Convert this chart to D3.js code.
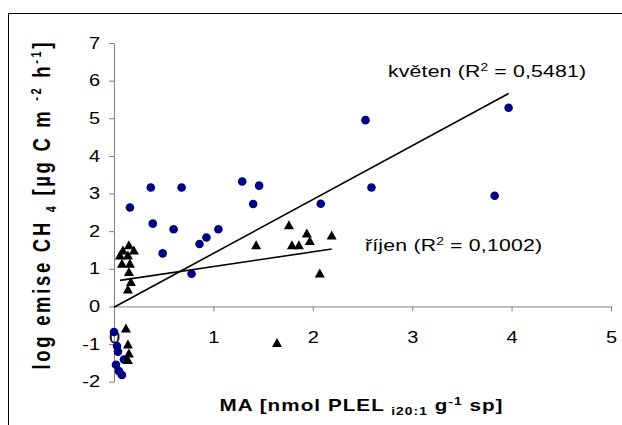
<!DOCTYPE html>
<html>
<head>
<meta charset="utf-8">
<script src="https://cdn.jsdelivr.net/npm/d3@7"></script>
<style>
  body { margin: 0; background: #fff; }
  text { font-family: "Liberation Sans", Arial, sans-serif; }
</style>
</head>
<body>
<script>
// hodnoty
const xTicks = [0, 1, 2, 3, 4, 5];
const yTicks = [-2, -1, 0, 1, 2, 3, 4, 5, 6, 7];

// květen (modré body)
const mayX = [0.16, 0.37, 0.68, 1.29, 1.46, 1.40, 0.39, 0.60, 1.05, 0.93, 0.86, 0.49, 0.78,
              2.08, 2.53, 3.97, 2.59, 3.83,
              0.00, 0.03, 0.04, 0.10, 0.02, 0.05, 0.08];
const mayY = [2.63, 3.16, 3.16, 3.32, 3.21, 2.72, 2.20, 2.05, 2.05, 1.83, 1.66, 1.41, 0.87,
              2.73, 4.95, 5.28, 3.16, 2.94,
              -0.68, -1.05, -1.20, -1.41, -1.55, -1.72, -1.82];

// říjen (trojúhelníky)
const octX = [0.15, 0.09, 0.20, 0.06, 0.14, 0.08, 0.16, 0.15, 0.17, 0.14,
              0.12, 0.14, 0.15, 0.14,
              1.76, 1.43, 1.79, 1.86, 1.94, 1.97, 2.19, 2.07, 1.64];
const octY = [1.64, 1.50, 1.50, 1.37, 1.37, 1.15, 1.15, 0.93, 0.66, 0.46,
              -0.57, -1.00, -1.24, -1.41,
              2.17, 1.64, 1.64, 1.64, 1.95, 1.75, 1.90, 0.89, -0.96];

// lineární trendy (sklon, úsek)
const mayTrend = [1.43, -0.02];
const octTrend = [0.39, 0.67];

const width = 622, height = 425;
const sx = 1.25; // text je v obrázku roztažený do šířky

const svg = d3.select("body").append("svg")
  .attr("width", width)
  .attr("height", height);

svg.append("rect").attr("width", width).attr("height", height).attr("fill", "#fff");
// rámeček
svg.append("path")
  .attr("d", "M8.5," + height + "V13.5H" + width)
  .attr("fill", "none")
  .attr("stroke", "#000");

const x = d3.scaleLinear().domain([0, 5]).range([114, 611]);
const y = d3.scaleLinear().domain([-2, 7]).range([381.7, 43]);

// osa y
const yAxis = svg.append("g")
  .attr("transform", "translate(114,0)")
  .call(d3.axisLeft(y).tickValues(yTicks).tickSize(5).tickSizeOuter(0)
    .tickFormat(d => String(d)));
yAxis.selectAll("text")
  .attr("x", -14 / sx)
  .attr("transform", "scale(" + sx + ",1)")
  .attr("fill", "#000")
  .style("font-size", "16px");

// osa x (prochází nulou, popisky dole)
const xAxis = svg.append("g")
  .attr("transform", "translate(0," + y(0) + ")")
  .call(d3.axisBottom(x).tickValues(xTicks).tickSize(5).tickSizeOuter(0)
    .tickFormat(d => String(d)));
xAxis.selectAll("text")
  .attr("y", 25)
  .attr("transform", "scale(" + sx + ",1)")
  .attr("fill", "#000")
  .style("font-size", "16px");

svg.selectAll(".domain, .tick line").attr("stroke", "#808080");

// body
svg.append("g").selectAll("circle")
  .data(mayX.map((d, i) => [d, mayY[i]]))
  .join("circle")
  .attr("cx", d => x(d[0]))
  .attr("cy", d => y(d[1]))
  .attr("r", 4.3)
  .attr("fill", "#000080");

svg.append("g").selectAll("path")
  .data(octX.map((d, i) => [d, octY[i]]))
  .join("path")
  .attr("d", "M0,-4.5L5,4.5L-5,4.5Z")
  .attr("transform", d => "translate(" + x(d[0]) + "," + y(d[1]) + ")")
  .attr("fill", "#000");

// trendy
function trend(xs, t) {
  const x0 = d3.min(xs), x1 = d3.max(xs);
  svg.append("line")
    .attr("x1", x(x0)).attr("y1", y(t[0] * x0 + t[1]))
    .attr("x2", x(x1)).attr("y2", y(t[0] * x1 + t[1]))
    .attr("stroke", "#000")
    .attr("stroke-width", 1.6);
}
trend(mayX, mayTrend);
trend(octX, octTrend);

// popisky trendů
function label(px, py, name, r2, len) {
  const t = svg.append("text")
    .attr("transform", "translate(" + px + "," + py + ") scale(" + sx + ",1)")
    .attr("textLength", len / sx)
    .style("font-size", "17px")
    .attr("fill", "#000");
  t.append("tspan").text(name + " (R");
  t.append("tspan").attr("dy", -6).style("font-size", "11px").text("2");
  t.append("tspan").attr("dy", 6).text(" = " + r2 + ")");
}
label(388, 77, "květen", "0,5481", 198);
label(365, 251, "říjen", "0,1002", 177);

// název osy x
const xt = svg.append("text")
  .attr("transform", "translate(361,411) scale(" + sx + ",1)")
  .attr("text-anchor", "middle")
  .attr("textLength", 283 / sx)
  .style("font-size", "16.5px")
  .style("font-weight", "bold");
xt.append("tspan").text("MA [nmol  PLEL ");
xt.append("tspan").attr("dy", 4).style("font-size", "11px").text("i20:1");
xt.append("tspan").attr("dy", -4).text(" g");
xt.append("tspan").attr("dy", -6).style("font-size", "11px").text("-1");
xt.append("tspan").attr("dy", 6).text(" sp]");

// název osy y
const yt = svg.append("text")
  .attr("transform", "translate(50,206) scale(" + sx + ",1) rotate(-90)")
  .attr("text-anchor", "middle")
  .attr("textLength", 327)
  .style("font-size", "18.5px")
  .style("font-weight", "bold");
yt.append("tspan").text("log emise CH  ");
yt.append("tspan").attr("dy", 5).style("font-size", "11px").text("4");
yt.append("tspan").attr("dy", -5).text(" [µg C m ");
yt.append("tspan").attr("dy", -7).style("font-size", "11px").text("-2");
yt.append("tspan").attr("dy", 7).text(" h");
yt.append("tspan").attr("dy", -7).style("font-size", "11px").text("-1");
yt.append("tspan").attr("dy", 7).text("]");
</script>
</body>
</html>
